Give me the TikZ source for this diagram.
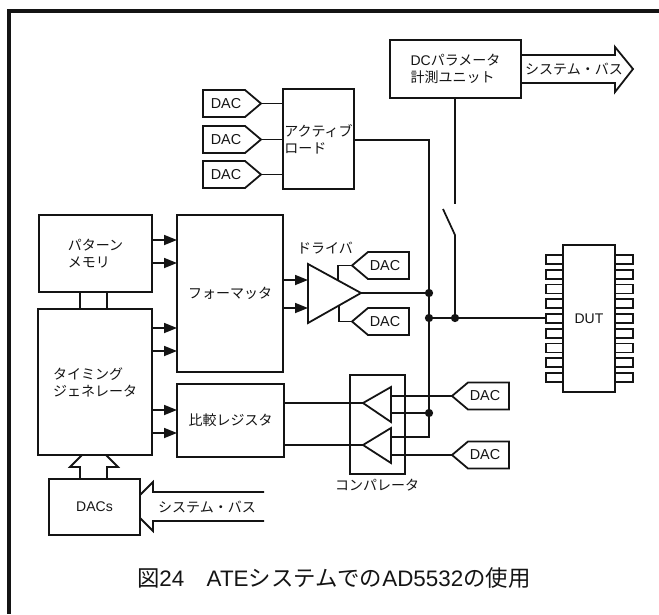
\documentclass[tikz,border=0pt]{standalone}
\usepackage{fontspec}
\setmainfont{Liberation Sans}
\newfontfamily\jp{Noto Sans CJK JP}
\usetikzlibrary{arrows.meta,calc}
\definecolor{ink}{HTML}{141414}
\tikzset{
  x=0.75pt,y=-0.75pt,
  every node/.style={text=ink,font=\fontsize{10.5}{12.75}\selectfont\jp},
  wire/.style={draw=ink,line width=1.3pt},
  boxst/.style={draw=ink,line width=1.5pt,rectangle,inner sep=0pt,outer sep=0pt,align=left},
  shapeline/.style={draw=ink,line width=1.35pt,line join=miter},
  thinshape/.style={draw=ink,line width=1.15pt,line join=miter},
  bigwire/.style={draw=ink,line width=1.7pt},
  sig/.style={wire,-{Triangle[length=9.75pt,width=7.5pt]}},
  jdot/.style={circle,fill=ink,inner sep=0pt,minimum size=6.2pt,outer sep=0pt},
  plain/.style={inner sep=0pt,outer sep=0pt},
  daclabel/.style={plain,font=\fontsize{10.8}{12.75}\selectfont\rmfamily},
  frameline/.style={draw=ink,line width=3pt},
}
\newcommand{\bx}[6]{\node[boxst,minimum width={(#4-#2)*0.75pt},minimum height={(#5-#3)*0.75pt}] (#1) at ({(#2+#4)/2},{(#3+#5)/2}) {#6};}
% DAC tag pointing right: name, left x, top y, bottom y
\newcommand{\dacR}[4]{%
  \draw[shapeline] (#2,#3) -- ({#2+42},#3) -- ({#2+58},{(#3+#4)/2}) -- ({#2+42},#4) -- (#2,#4) -- cycle;
  \node[daclabel] (#1) at ({#2+23},{(#3+#4)/2}) {DAC};
  \coordinate (#1t) at ({#2+58},{(#3+#4)/2});}
% DAC tag pointing left: name, tip x, top y, bottom y
\newcommand{\dacL}[4]{%
  \draw[shapeline] (#2,{(#3+#4)/2}) -- ({#2+16},#3) -- ({#2+57},#3) -- ({#2+57},#4) -- ({#2+16},#4) -- cycle;
  \node[daclabel] (#1) at ({#2+33},{(#3+#4)/2}) {DAC};
  \coordinate (#1t) at (#2,{(#3+#4)/2});}
\begin{document}
\begin{tikzpicture}
\useasboundingbox (0,0) rectangle (659,614);
% frame
\coordinate (fa) at (659,11);
\coordinate (fb) at (9,11);
\coordinate (fc) at (9,614);
\draw[frameline,line join=miter] (fa) -- (fb) -- (fc);

% boxes
\bx{dcu}{390}{40}{521}{98}{{\rmfamily DC}パラメータ\\計測ユニット}
\bx{act}{283}{89}{354}{189}{アクティブ\\ロード}
\bx{pat}{39}{215}{152}{292}{パターン\\メモリ}
\bx{tim}{38}{309}{152}{455}{タイミング\\ジェネレータ}
\bx{fmt}{177}{215}{283}{372}{フォーマッタ}
\bx{cmp}{177}{384}{284}{457}{比較レジスタ}
\bx{dacs}{49}{479}{140}{535}{\rmfamily DACs}
\node[boxst,line width=1.3pt,minimum width={55*0.75pt},minimum height={99*0.75pt}] (cbox) at (377.5,424.5) {};

% DAC tags
\dacR{da}{203}{90}{117}
\dacR{db}{203}{126}{153}
\dacR{dc}{203}{161}{188}
\dacL{dd}{352}{252}{279}
\dacL{de}{352}{308}{335}
\dacL{df}{452}{382.5}{409.5}
\dacL{dg}{452}{441.5}{468.5}

% DAC to active load
\draw[wire] (dat) -- (dat -| act.west);
\draw[wire] (dbt) -- (dbt -| act.west);
\draw[wire] (dct) -- (dct -| act.west);

% driver
\coordinate (drvT) at (308,264);
\coordinate (drvB) at (308,323);
\coordinate (drvO) at (361,293);
\draw[shapeline] (drvT) -- (drvO) -- (drvB) -- cycle;
\coordinate (drvI1) at (308,280);
\coordinate (drvI2) at (308,308);
\coordinate (drvU) at (338,280.5);
\coordinate (drvL) at (339,305.5);
\draw[wire] (drvU) |- (ddt);
\draw[wire] (drvL) |- (det);

% signal arrows
\foreach \yy in {240,263}{\draw[sig] (pat.east |- 0,\yy) -- (fmt.west |- 0,\yy);}
\foreach \yy in {328,351}{\draw[sig] (tim.east |- 0,\yy) -- (fmt.west |- 0,\yy);}
\foreach \yy in {410,433}{\draw[sig] (tim.east |- 0,\yy) -- (cmp.west |- 0,\yy);}
\draw[sig] (fmt.east |- drvI1) -- (drvI1);
\draw[sig] (fmt.east |- drvI2) -- (drvI2);

% pattern memory - timing
\foreach \xx in {80,107}{\draw[wire,line width=1.4pt] (\xx,0 |- pat.south) -- (\xx,0 |- tim.north);}

% comparators
\coordinate (c1t) at (363,403);
\coordinate (c2t) at (363,445);
\draw[shapeline] (c1t) -- (391,387) -- (391,422) -- cycle;
\draw[shapeline] (c2t) -- (391,428) -- (391,463) -- cycle;
\draw[wire] (cmp.east |- c1t) -- (c1t);
\draw[wire] (cmp.east |- c2t) -- (c2t);
\coordinate (c1a) at (391,396);
\coordinate (c1b) at (391,413);
\coordinate (c2a) at (391,437);
\coordinate (c2b) at (391,455);
\draw[wire] (c1a) -- (dft);
\draw[wire] (c2b) -- (dgt);

% junctions
\node[jdot] (j1) at (429,293) {};
\node[jdot] (j2) at (429,318) {};
\node[jdot] (j3) at (429,413) {};
\node[jdot] (j4) at (455,318) {};

% main wires
\coordinate (actbend) at (429,140);
\draw[wire] (act.east |- actbend) -- (actbend) -- (j1) -- (j2) -- (j3) -- (429,437) -- (c2a);
\draw[wire] (c1b) -- (j3);
\draw[wire] (drvO) -- (j1);

% DC unit and switch
\coordinate (swa) at (455,204);
\coordinate (swb) at (455,235);
\coordinate (swc) at (443,209);
\draw[wire] (dcu.south -| swa) -- (swa);
\draw[wire] (swc) -- (swb) -- (j4);

% bus arrows
\draw[shapeline] (dcu.east |- 0,55) -- (615,55) -- (615,47) -- (633,69) -- (615,92) -- (615,83) -- (dcu.east |- 0,83);
\node[plain] (bus1) at (574,69) {システム・バス};
\draw[shapeline] (264,492) -- (153,492) -- (153,482) -- (dacs.east |- 0,495);
\draw[shapeline] (264,521) -- (153,521) -- (153,531) -- (dacs.east |- 0,518);
\node[plain] (bus2) at (207,507) {システム・バス};
\draw[shapeline] (80,0 |- dacs.north) -- (80,467) -- (70,467) -- (82,0 |- tim.south);
\draw[shapeline] (107,0 |- dacs.north) -- (107,467) -- (118,467) -- (106,0 |- tim.south);

% DUT
\foreach \k in {0,...,8}{
  \pgfmathsetmacro{\yt}{255+14.75*\k}
  \draw[thinshape] (563,\yt) -- (546,\yt) -- (546,\yt+9) -- (563,\yt+9);
  \draw[thinshape] (615,\yt) -- (633,\yt) -- (633,\yt+9) -- (615,\yt+9);
}
\node[boxst,line width=1.8pt,minimum width={52*0.75pt},minimum height={147*0.75pt},font=\fontsize{10.5}{12.75}\selectfont\rmfamily] (dut) at (589,318.5) {DUT};
\coordinate (pin) at (546,318);
\draw[bigwire] (j2) -- (j4) -- (pin);

% labels
\node[plain] (ldrv) at (325,248) {ドライバ};
\node[plain] (lcmp) at (377,485) {コンパレータ};
\node[plain,anchor=west,font=\fontsize{16.8}{18}\selectfont\jp] (cap) at (137,578) {図{\rmfamily 24}　{\rmfamily ATE}システムでの{\rmfamily AD5532}の使用};
\end{tikzpicture}
\end{document}
